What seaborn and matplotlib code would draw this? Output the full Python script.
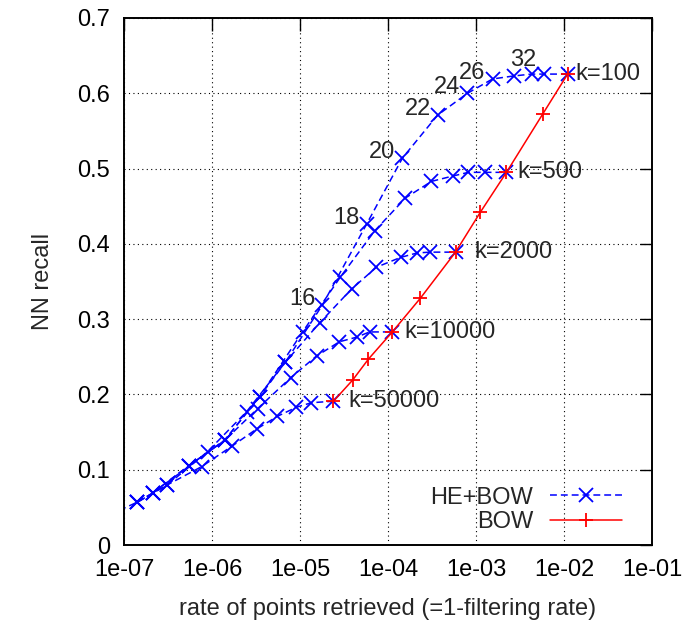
import matplotlib
matplotlib.use("Agg")
import matplotlib.pyplot as plt
import numpy as np
import pandas as pd
import seaborn as sns
from matplotlib.lines import Line2D
from matplotlib.ticker import FixedLocator, FuncFormatter

# HE+BOW curves, one per vocabulary size k
he_k100_rate = [6.84e-8, 1.42e-7, 3.12e-7, 8.89e-7, 2.47e-6, 6.84e-6, 1.80e-5,
                5.70e-5, 1.46e-4, 3.66e-4, 8.0e-4, 1.54e-3, 2.67e-3, 4.28e-3, 5.85e-3, 1.10e-2]
he_k100_recall = [0.040, 0.057, 0.080, 0.124, 0.177, 0.243, 0.319,
                  0.426, 0.514, 0.571, 0.600, 0.619, 0.623, 0.6255, 0.6255, 0.6255]

he_k500_rate = [2.11e-7, 5.41e-7, 1.39e-6, 3.47e-6, 1.07e-5, 2.88e-5, 7.03e-5,
                1.58e-4, 3.12e-4, 5.41e-4, 8.2e-4, 1.25e-3, 2.22e-3]
he_k500_recall = [0.069, 0.105, 0.139, 0.197, 0.283, 0.356, 0.417,
                  0.461, 0.483, 0.490, 0.495, 0.495, 0.495]

he_k2000_rate = [2.11e-7, 5.41e-7, 1.39e-6, 3.47e-6, 6.84e-6, 1.67e-5, 3.85e-5,
                 7.40e-5, 1.39e-4, 2.16e-4, 3.04e-4, 5.85e-4]
he_k2000_recall = [0.069, 0.105, 0.139, 0.197, 0.243, 0.295, 0.340,
                   0.369, 0.382, 0.388, 0.389, 0.389]

he_k10000_rate = [1.42e-7, 2.11e-7, 5.55e-7, 1.39e-6, 3.29e-6, 7.80e-6, 1.54e-5,
                  2.81e-5, 4.39e-5, 6.17e-5, 1.12e-4]
he_k10000_recall = [0.057, 0.069, 0.105, 0.139, 0.181, 0.222, 0.251,
                    0.270, 0.276, 0.283, 0.283]

he_k50000_rate = [1.42e-7, 3.12e-7, 7.60e-7, 1.67e-6, 3.21e-6, 5.55e-6, 9.12e-6,
                  1.35e-5, 2.40e-5]
he_k50000_recall = [0.057, 0.080, 0.104, 0.131, 0.154, 0.171, 0.183,
                    0.189, 0.191]

# plain BOW, k from 50000 down to 100
bow_rate = [2.40e-5, 3.96e-5, 6.0e-5, 1.12e-4, 2.34e-4, 5.85e-4, 1.12e-3,
            2.22e-3, 5.7e-3, 1.10e-2]
bow_recall = [0.191, 0.219, 0.247, 0.283, 0.328, 0.389, 0.442,
              0.495, 0.572, 0.6255]

k_labels = ["k=100", "k=500", "k=2000", "k=10000", "k=50000"]
h_labels = ["16", "18", "20", "22", "24", "26", "32"]
h_points_rate = [1.80e-5, 5.70e-5, 1.46e-4, 3.66e-4, 8.0e-4, 1.54e-3, 5.85e-3]
h_points_recall = [0.319, 0.426, 0.514, 0.571, 0.600, 0.619, 0.6255]

he_curves = [
    (he_k100_rate, he_k100_recall),
    (he_k500_rate, he_k500_recall),
    (he_k2000_rate, he_k2000_recall),
    (he_k10000_rate, he_k10000_recall),
    (he_k50000_rate, he_k50000_recall),
]

sns.set_style("white")
plt.rcParams["font.family"] = ["Liberation Sans", "DejaVu Sans"]
FS = 17

fig = plt.figure(figsize=(6.83, 6.21), dpi=100)
ax = fig.add_axes([124 / 683, 76 / 621, 528 / 683, 527 / 621])

dash = (0, (4.5, 2.6))
he_style = dict(color="blue", lw=1.1, linestyle=dash, marker="x", markersize=9.5,
                markeredgewidth=1.3, markeredgecolor="blue")
bow_style = dict(color="red", lw=1.1, marker="+", markersize=10.5,
                 markeredgewidth=1.3, markeredgecolor="red")

for rate, recall in he_curves:
    df = pd.DataFrame({"rate": rate, "recall": recall})
    sns.lineplot(data=df, x="rate", y="recall", sort=False, estimator=None,
                 ax=ax, **he_style)

bow_df = pd.DataFrame({"rate": bow_rate, "recall": bow_recall})
sns.lineplot(data=bow_df, x="rate", y="recall", sort=False, estimator=None,
             ax=ax, **bow_style)

ax.set_xscale("log")
ax.set_xlim(1e-7, 1e-1)
ax.set_ylim(0, 0.7)

ax.xaxis.set_major_locator(FixedLocator([10.0 ** e for e in range(-7, 0)]))
ax.xaxis.set_minor_locator(FixedLocator([]))
ax.xaxis.set_major_formatter(FuncFormatter(lambda v, p: f"{v:.0e}"))
ax.yaxis.set_major_locator(FixedLocator(np.arange(0, 0.71, 0.1)))
ax.yaxis.set_major_formatter(FuncFormatter(lambda v, p: f"{v:.1f}" if v > 0 else "0"))

ax.tick_params(which="major", direction="in", length=9, width=1.0,
               top=True, right=True, labelsize=FS, colors="black")
ax.tick_params(axis="x", pad=10)
ax.tick_params(axis="y", pad=10)
ax.grid(True, color="black", linestyle=(0, (1, 3)), linewidth=0.8)
for sp in ax.spines.values():
    sp.set_linewidth(1.4)
    sp.set_color("black")

ax.set_xlabel("rate of points retrieved (=1-filtering rate)", fontsize=FS, labelpad=12)
ax.set_ylabel("NN recall", fontsize=FS, labelpad=17)

# k labels at the end of each curve (gap in pixels as in the picture)
k_gap = [8, 11, 19, 12, 15]
for (rate, recall), lab, gap in zip(he_curves, k_labels, k_gap):
    ax.annotate(lab, xy=(rate[-1], recall[-1]), xytext=(gap, 0),
                textcoords="offset pixels", ha="left", va="center", fontsize=FS)

# Hamming threshold labels on the k=100 curve
for xr, yr, lab in zip(h_points_rate, h_points_recall, h_labels):
    dy = 14 if lab == "32" else 6
    ax.annotate(lab, xy=(xr, yr), xytext=(-20, dy), textcoords="offset pixels",
                ha="center", va="center", fontsize=FS)

handles = [Line2D([], [], **he_style), Line2D([], [], **bow_style)]
ax.legend(handles, ["HE+BOW", "BOW"], loc="lower right", frameon=False,
          markerfirst=False, fontsize=FS, handlelength=3.05, handletextpad=0.72,
          labelspacing=0.1, borderpad=0, borderaxespad=0,
          bbox_to_anchor=(0.943, 0.023))

fig.savefig("out.png", dpi=100)
